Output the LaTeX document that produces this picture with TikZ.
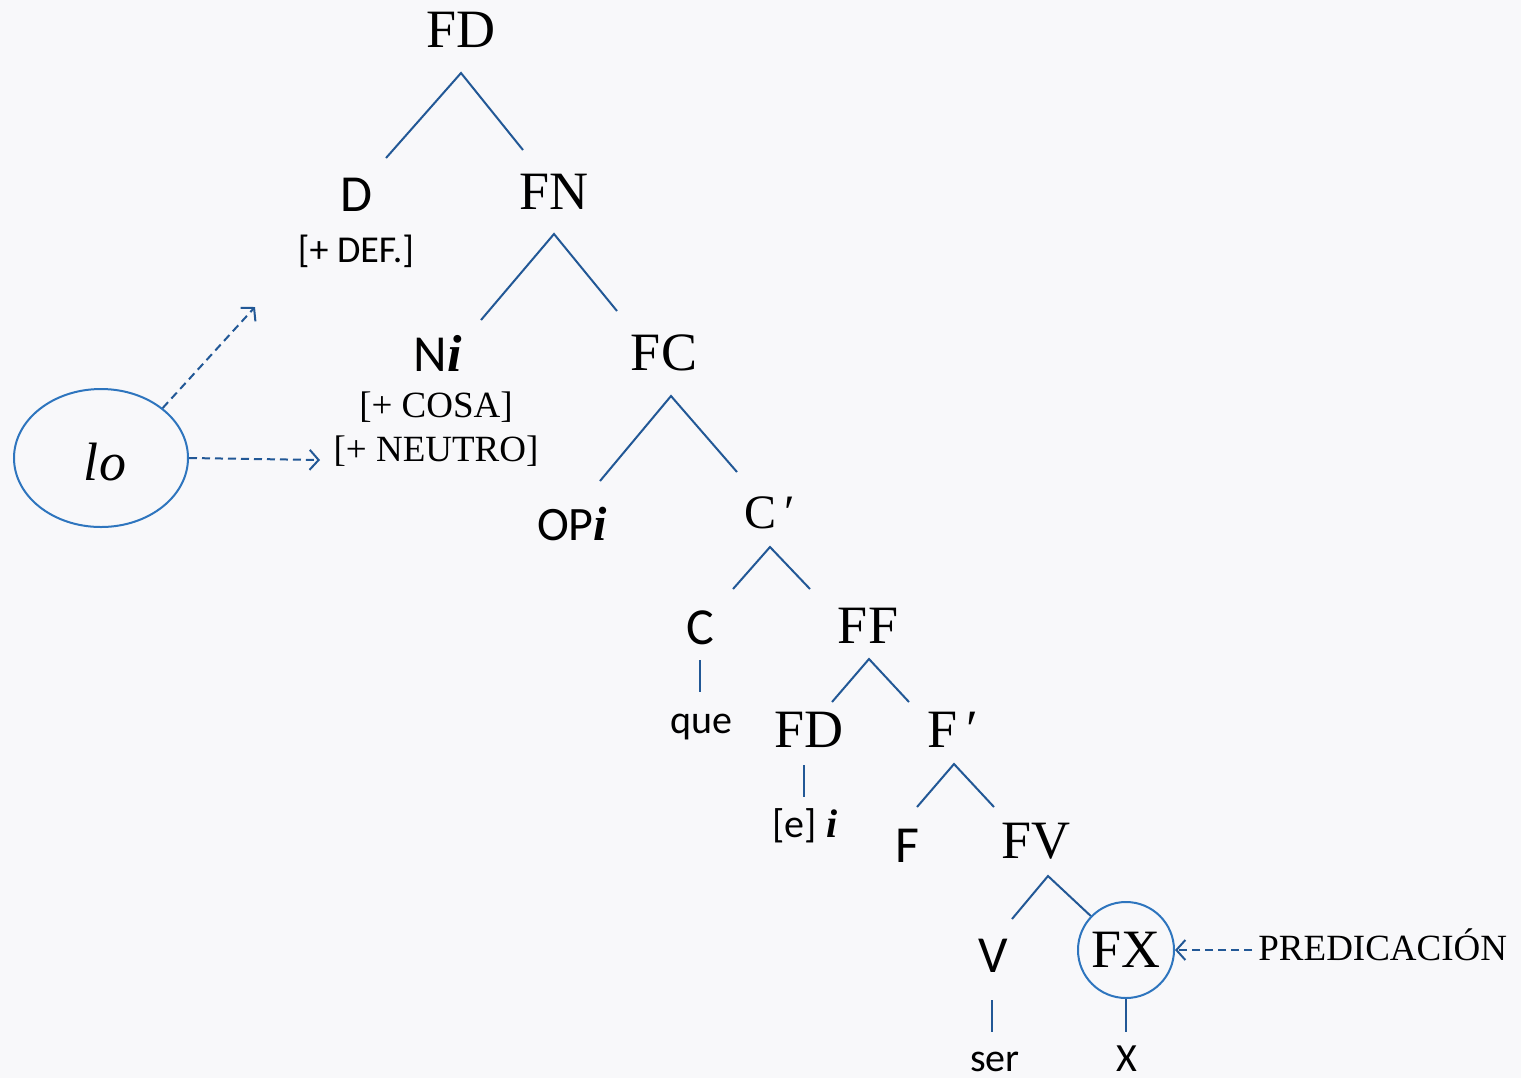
\documentclass[tikz,border=0pt]{standalone}
\usepackage{fontspec}
\setmainfont{Liberation Serif}
\newfontfamily\calfont{Carlito}
\usetikzlibrary{arrows.meta,shapes.geometric}
\definecolor{treeblue}{RGB}{34,88,150}
\definecolor{ringblue}{RGB}{46,117,190}
\definecolor{bgcol}{RGB}{248,248,250}
\newcommand\myidx{{\rmfamily\bfseries\itshape i}}
\begin{document}
\begin{tikzpicture}[x=0.5pt,y=-0.5pt,
  lbl/.style={inner sep=0pt, anchor=base, text=black},
  big/.style={lbl, font=\fontsize{27}{30}\selectfont},
  calbig/.style={lbl, font=\calfont\fontsize{26}{30}\selectfont},
  feat/.style={lbl, font=\fontsize{18.5}{21}\selectfont},
  calfeat/.style={lbl, font=\calfont\fontsize{19}{22}\selectfont},
  word/.style={lbl, font=\calfont\fontsize{20}{23}\selectfont},
  branch/.style={draw=treeblue, line width=1pt},
  dasharrow/.style={draw=treeblue, line width=1pt, dash pattern=on 4pt off 2.5pt, -{Straight Barb[length=4.5pt,width=10pt]}}
]
\fill[bgcol] (0,0) rectangle (1521,1078);
\useasboundingbox (0,0) rectangle (1521,1078);

% labels
\node[big] (fd) at (461,47) {FD};
\node[calbig] (d) at (356,211) {D};
\node[calfeat] (def) at (356,262) {[+ DEF.]};
\node[big] (fn) at (554,209) {FN};
\node[calbig] (n) at (438,371) {N\myidx};
\node[feat] (cosa) at (436,417) {[+ COSA]};
\node[feat] (neutro) at (436,461) {[+ NEUTRO]};
\node[big] (fc) at (664,370) {FC};
\node[calbig, font=\calfont\fontsize{24}{28}\selectfont] (op) at (572,540) {OP\myidx};
\node[big, font=\fontsize{24}{28}\selectfont] (cbar) at (770,528) {C\,′};
\node[calbig] (c) at (700,644) {C};
\node[word] (que) at (701,733) {que};
\node[big] (ff) at (868,643) {FF};
\node[big] (fdb) at (809,747) {FD};
\node[big] (fbar) at (953,747) {F\,′};
\node[word] (e) at (805,837) {[e] \myidx};
\node[calbig] (f) at (907,862) {F};
\node[big] (fv) at (1036,858) {FV};
\node[calbig] (v) at (993,972) {V};
\node[big, circle, draw=ringblue, line width=1pt, minimum size=48pt, anchor=center] (fx) at (1126,950) {FX};
\node[word] (ser) at (995,1071) {ser};
\node[word] (xx) at (1127,1071) {X};
\node[lbl, anchor=base west, font=\fontsize{18.5}{21}\selectfont] (pred) at (1258,960) {PREDICACIÓN};
\node[ellipse, draw=ringblue, line width=1pt, minimum width=87pt, minimum height=69pt, inner sep=0pt] (lo) at (101,458) {};
\node[lbl, font=\fontsize{27}{30}\selectfont\itshape] (lotext) at (105,480) {lo};

% branch points
\coordinate (a1) at (461,73); \coordinate (a1l) at (386,158); \coordinate (a1r) at (523,150);
\coordinate (a2) at (554,234); \coordinate (a2l) at (481,320); \coordinate (a2r) at (617,311);
\coordinate (a3) at (671,396); \coordinate (a3l) at (600,481); \coordinate (a3r) at (737,472);
\coordinate (a4) at (770,547); \coordinate (a4l) at (733,589); \coordinate (a4r) at (810,589);
\coordinate (c1) at (700,660); \coordinate (c2) at (700,692);
\coordinate (a5) at (869,659); \coordinate (a5l) at (832,702); \coordinate (a5r) at (909,702);
\coordinate (d1) at (804,765); \coordinate (d2) at (804,797);
\coordinate (a6) at (954,764); \coordinate (a6l) at (917,807); \coordinate (a6r) at (994,807);
\coordinate (a7) at (1048,876); \coordinate (a7l) at (1012,919);
\coordinate (v1) at (992,1000); \coordinate (v2) at (992,1032);
\coordinate (x2) at (1126,1032);
\coordinate (deftip) at (255,307);
\coordinate (neutip) at (320,460);
\coordinate (predstart) at (1252,950);

\draw[branch] (a1l) -- (a1) -- (a1r);
\draw[branch] (a2l) -- (a2) -- (a2r);
\draw[branch] (a3l) -- (a3) -- (a3r);
\draw[branch] (a4l) -- (a4) -- (a4r);
\draw[branch] (c1) -- (c2);
\draw[branch] (a5l) -- (a5) -- (a5r);
\draw[branch] (d1) -- (d2);
\draw[branch] (a6l) -- (a6) -- (a6r);
\draw[branch] (a7l) -- (a7) -- (fx.136);
\draw[branch] (v1) -- (v2);
\draw[branch] (fx.south) -- (x2);

% dashed arrows
\draw[dasharrow] (lo.39) -- (deftip);
\draw[dasharrow] (lo.east) -- (neutip);
\draw[dasharrow] (predstart) -- (fx.east);
\end{tikzpicture}
\end{document}
